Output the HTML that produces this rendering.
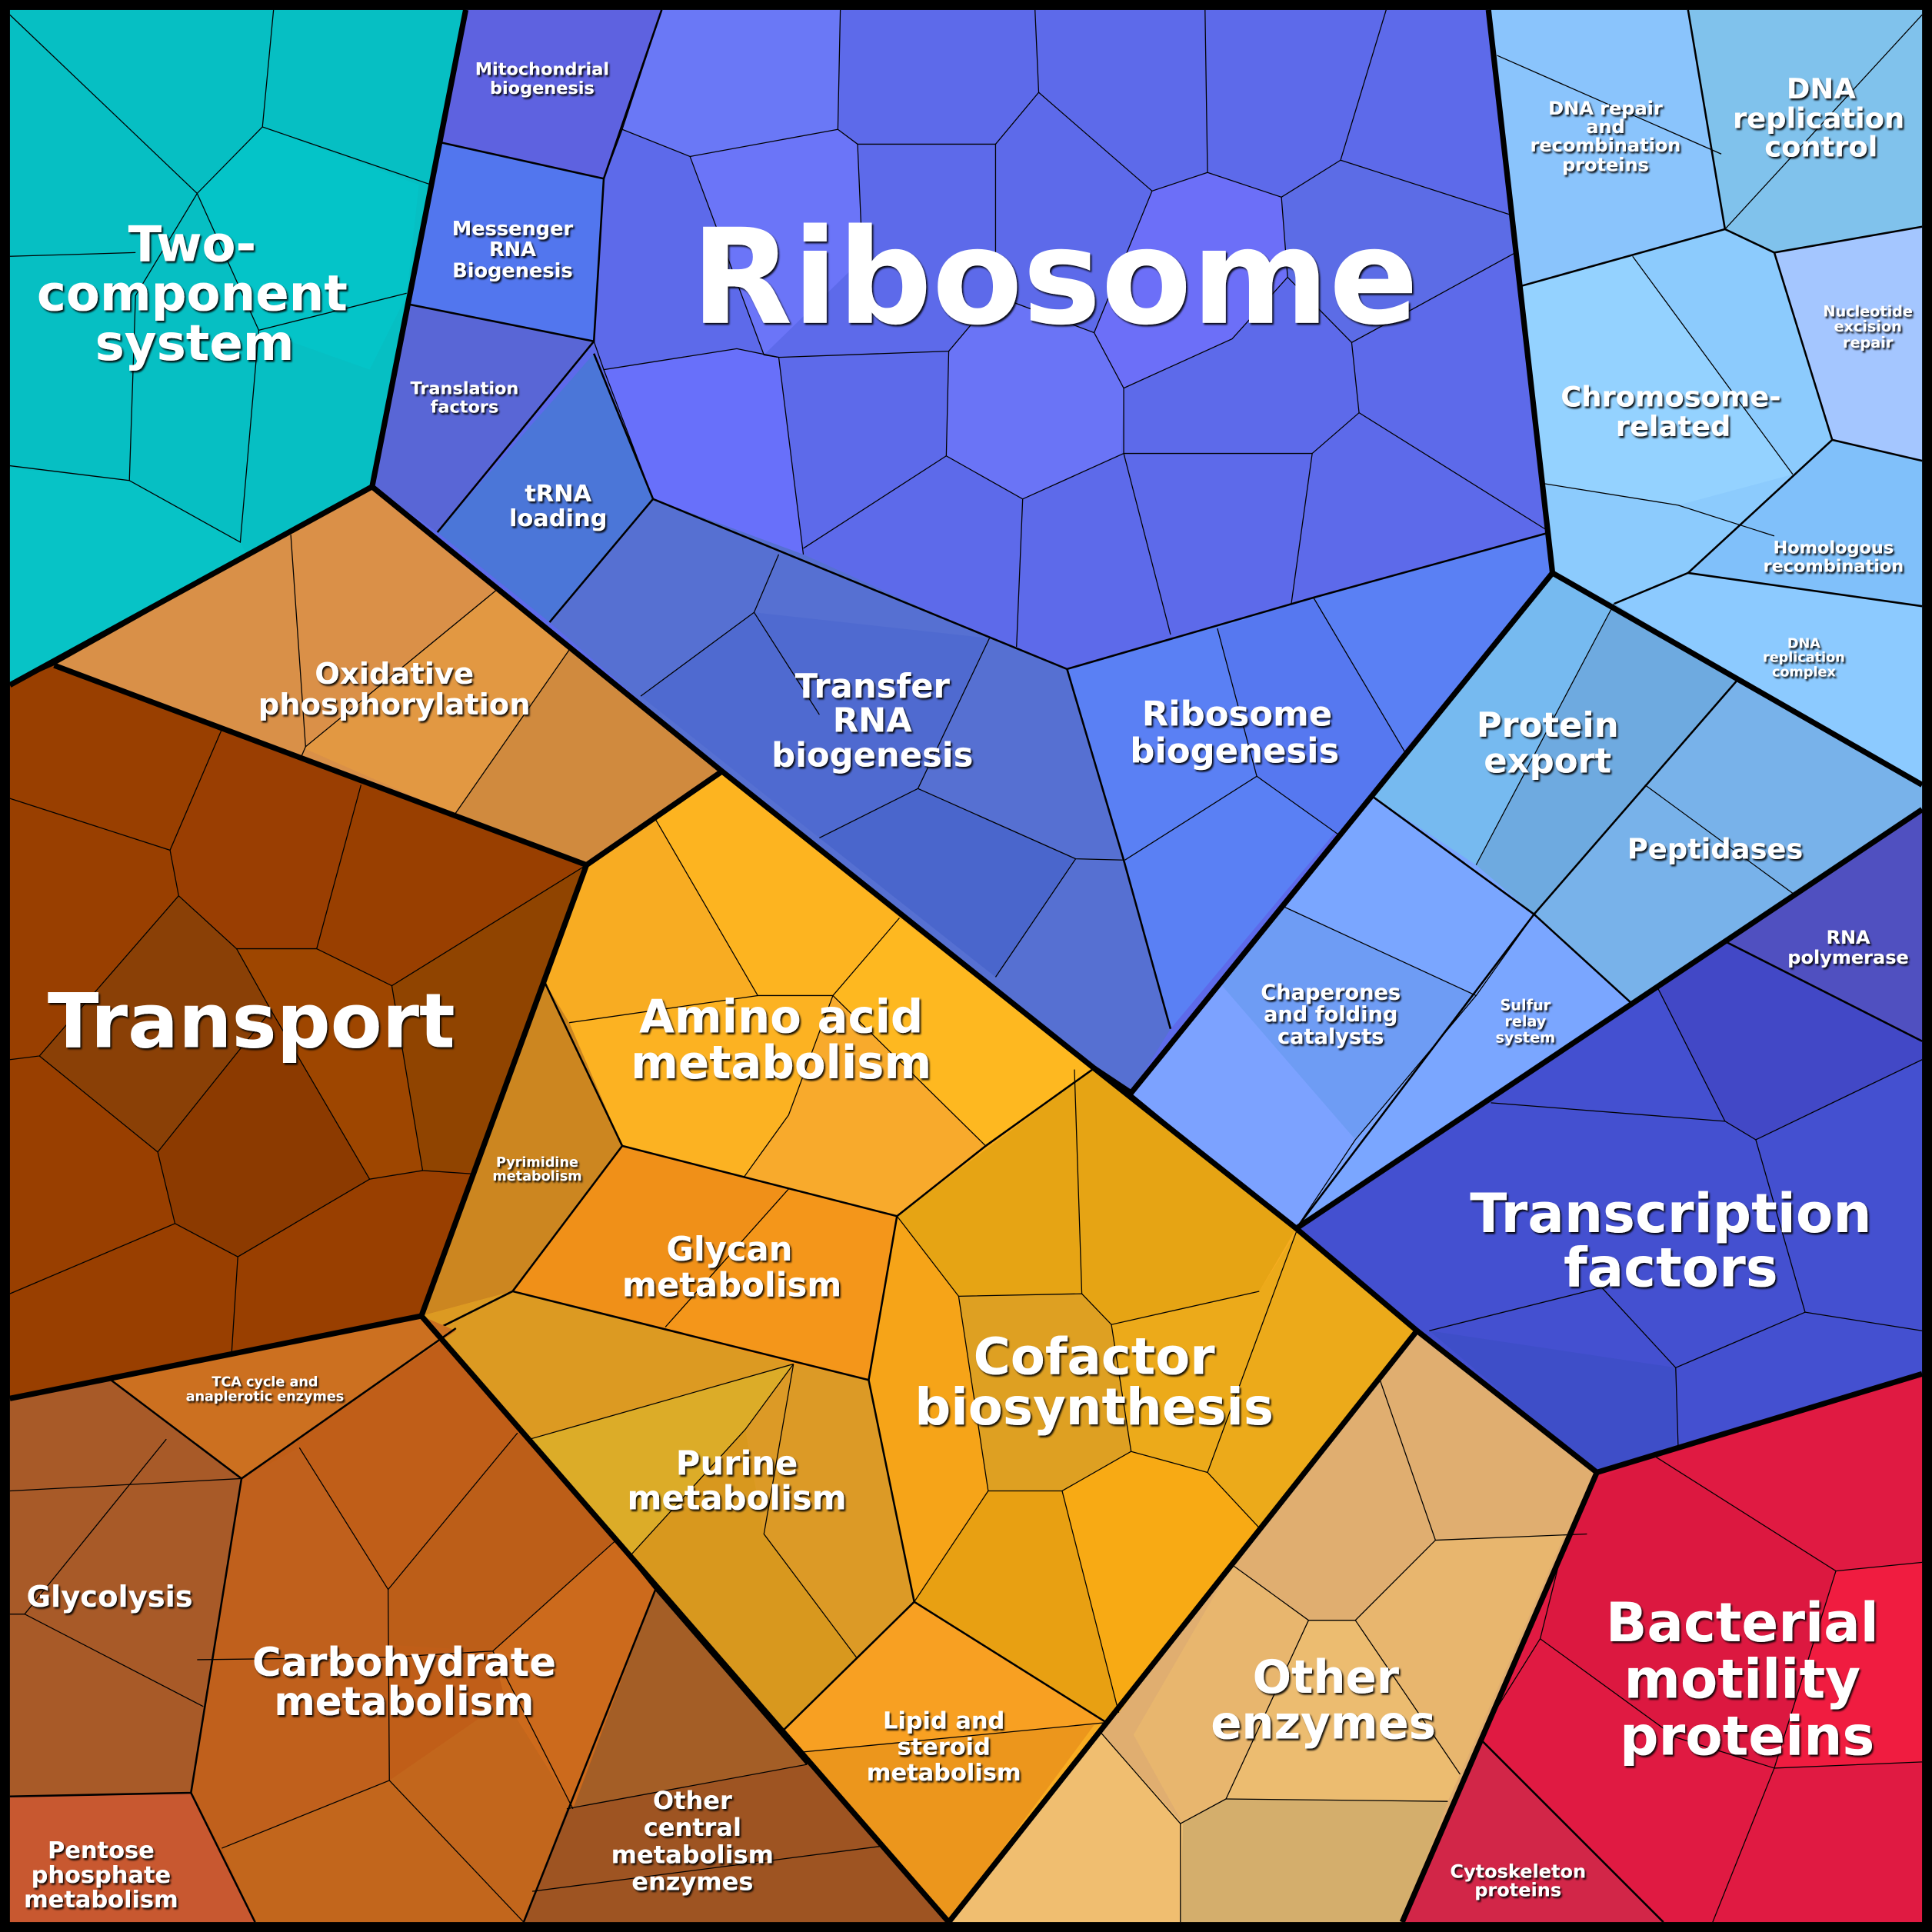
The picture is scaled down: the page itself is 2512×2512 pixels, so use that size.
<!DOCTYPE html>
<html><head><meta charset="utf-8"><style>
html,body{margin:0;padding:0;background:#000;}
svg{display:block}
text{font-family:"DejaVu Sans","Liberation Sans",sans-serif;font-weight:bold;fill:#fff;text-anchor:middle;filter:url(#sh);}
.t{stroke:#000;stroke-width:0.8;fill:none}
.m{stroke:#000;stroke-width:1.6;fill:none}
.k{stroke:#000;stroke-width:4.5;fill:none;stroke-linejoin:round}
</style></head><body>
<svg width="2512" height="2512" viewBox="0 0 1568 1568" xmlns="http://www.w3.org/2000/svg">
<defs><filter id="sh" x="-10%" y="-10%" width="120%" height="130%"><feDropShadow dx="1.2" dy="1.5" stdDeviation="0.6" flood-color="#000" flood-opacity="0.9"/></filter></defs>
<rect width="1568" height="1568" fill="#000"/>
<!-- Two-component -->
<polygon points="8,8 378,8 302,395 8,556" fill="#06bfc3"/>
<polygon points="160,157 213,103 340,150 330,240 300,300 210,268" fill="#04c4c8"/>
<polygon points="8,380 105,390 195,440 200,450 8,556" fill="#07c3c6"/>
<polyline class="t" points="8,12 160,157 213,103 222,8"/>
<polyline class="t" points="213,103 350,150"/>
<polyline class="t" points="160,157 110,240 105,390 8,378"/>
<polyline class="t" points="105,390 195,440 210,268 330,238"/>
<polyline class="t" points="8,208 110,205"/>
<polyline class="t" points="210,268 160,157"/>
<!-- Ribosome area base -->
<polygon points="378,8 1208,8 1260,465 918,887 888,867 586,626 302,395" fill="#5d6aea"/>
<polygon points="505,105 537,8 682,8 680,105 560,127" fill="#6a78f6"/>
<polygon points="560,127 680,105 696,117 700,210 620,288" fill="#6b75f8"/>
<polygon points="935,155 980,140 1040,160 1045,225 1000,275 912,315 888,270" fill="#6c6ff8"/>
<polygon points="808,240 888,270 912,315 910,368 830,405 768,370 770,285" fill="#6a74f6"/>
<polygon points="490,300 598,283 632,290 652,450 530,405" fill="#6870fa"/>
<polygon points="1040,160 1088,130 1228,175 1230,205 1097,278 1045,225" fill="#5c6ce6"/>
<!-- Mito, mRNA, translation, tRNA loading -->
<polygon points="378,8 537,8 490,145 355,115" fill="#5e62e0"/>
<polygon points="355,115 490,145 482,277 332,247" fill="#5276ee"/>
<polygon points="332,247 482,277 355,432 302,395" fill="#5966d6"/>
<polygon points="355,432 482,287 530,405 446,505" fill="#4b76d8"/>
<!-- Transfer RNA -->
<polygon points="446,505 530,405 652,450 803,518 866,543 912,698 950,835 918,887 888,867 586,626" fill="#5670d2"/>
<polygon points="612,497 803,518 745,640 665,680 520,565" fill="#4f6ad0"/>
<polygon points="665,680 745,640 873,697 808,793" fill="#4a66cc"/>
<!-- Ribosome biogenesis -->
<polygon points="866,543 1066,485 1258,432 1260,465 950,835 912,698" fill="#5a80f4"/>
<polygon points="988,510 1066,485 1140,610 1090,680 1020,630" fill="#5678f0"/>
<g class="t">
<polyline points="505,105 490,145"/><polyline points="537,8 505,105 560,127 680,105 682,8"/>
<polyline points="680,105 696,117 808,117 843,75 840,8"/>
<polyline points="843,75 935,155 980,140 978,8"/>
<polyline points="980,140 1040,160 1088,130 1125,8"/>
<polyline points="1088,130 1228,175"/>
<polyline points="560,127 620,288 632,290"/>
<polyline points="696,117 700,210"/>
<polyline points="482,277 490,300 598,283 632,290 652,450"/>
<polyline points="632,290 770,285 808,240 808,117"/>
<polyline points="808,240 888,270 935,155"/>
<polyline points="888,270 912,315 1000,275 1045,225 1040,160"/>
<polyline points="1045,225 1097,278 1230,205"/>
<polyline points="1097,278 1103,335 1255,430"/>
<polyline points="1103,335 1065,368 1048,490"/>
<polyline points="1065,368 912,368 912,315"/>
<polyline points="912,368 950,515"/><polyline points="912,368 830,405 768,370 770,285"/>
<polyline points="768,370 652,445"/><polyline points="830,405 825,525"/>
<polyline points="490,300 530,405"/>
<polyline points="632,450 612,497 520,565"/><polyline points="612,497 665,580"/>
<polyline points="803,518 745,640 665,680"/><polyline points="745,640 873,697 912,698"/>
<polyline points="873,697 808,793"/>
<polyline points="988,510 1020,630 913,698"/><polyline points="1066,485 1140,610"/>
<polyline points="1020,630 1090,680"/>
</g>
<g class="m">
<polyline points="355,115 490,145 482,277 332,247"/>
<polyline points="537,8 490,145"/>
<polyline points="482,277 355,432"/>
<polyline points="482,287 530,405 446,505"/>
<polyline points="530,405 866,543 1066,485 1258,432"/>
<polyline points="866,543 912,698 950,835"/>
</g>
<!-- DNA region -->
<polygon points="1208,8 1560,8 1560,637 1260,465" fill="#8bc6fe"/>
<polygon points="1208,8 1370,8 1400,186 1235,232" fill="#8ac4fc"/>
<polygon points="1370,8 1560,8 1560,184 1440,205 1400,186" fill="#80c2ec"/>
<polygon points="1440,205 1560,184 1560,374 1487,357" fill="#a4c6ff"/>
<polygon points="1235,232 1400,186 1440,205 1487,357 1370,465 1310,490 1260,465" fill="#8ccbfd"/>
<polygon points="1235,232 1325,208 1455,385 1362,410 1250,392" fill="#94d2ff"/>
<polygon points="1487,357 1560,374 1560,492 1370,465" fill="#80c0fa"/>
<polygon points="1310,490 1370,465 1560,492 1560,637" fill="#8ccaff"/>
<g class="t">
<polyline points="1215,45 1397,125"/><polyline points="1400,186 1560,12"/>
<polyline points="1325,208 1455,385"/><polyline points="1250,392 1362,410"/>
<polyline points="1362,410 1440,435"/>
</g>
<g class="m">
<polyline points="1370,8 1400,186 1235,232"/>
<polyline points="1400,186 1440,205 1560,184"/>
<polyline points="1440,205 1487,357 1560,374"/>
<polyline points="1487,357 1370,465 1310,490"/>
<polyline points="1370,465 1560,492"/>
</g>
<!-- Protein export / chaperones -->
<polygon points="1260,465 1560,637 1560,657 1052,997 918,887" fill="#7aa6ff"/>
<polygon points="1260,465 1310,490 1410,552 1335,637 1245,742 1198,702 1112,645" fill="#76baf0"/>
<polygon points="1310,490 1410,552 1335,637 1245,742 1198,702" fill="#6eaae0"/>
<polygon points="1410,552 1560,637 1560,657 1325,815 1245,742 1335,637" fill="#78b2ea"/>
<polygon points="990,798 1040,735 1198,808 1100,925" fill="#6e9cf4"/>
<polygon points="918,887 990,798 1100,925 1052,997" fill="#7ca2ff"/>
<g class="t">
<polyline points="1310,490 1198,702"/><polyline points="1335,637 1455,725"/>
<polyline points="1040,735 1198,808 1100,925"/><polyline points="1040,735 990,798"/>
<polyline points="1112,645 1040,735"/><polyline points="1198,808 1245,742"/>
<polyline points="1100,925 1052,997"/>
</g>
<g class="m">
<polyline points="1112,645 1245,742 1410,552"/>
<polyline points="1245,742 1325,815"/>
<polyline points="1245,742 1052,997"/>
</g>
<!-- Transcription -->
<polygon points="1560,657 1560,1115 1296,1195 1150,1080 1052,997" fill="#4450d0"/>
<polygon points="1400,764 1560,657 1560,845" fill="#5050c0"/>
<polygon points="1345,801 1400,764 1560,845 1560,860 1425,925 1400,910" fill="#4248c6"/>
<polygon points="1160,1080 1360,1110 1360,1175 1296,1195" fill="#3e4ec8"/>
<g class="t">
<polyline points="1345,801 1400,910 1425,925 1560,860"/>
<polyline points="1210,895 1400,910"/>
<polyline points="1425,925 1465,1065 1360,1110 1362,1175"/>
<polyline points="1360,1110 1300,1045 1160,1080"/>
<polyline points="1465,1065 1560,1080"/>
</g>
<g class="m"><polyline points="1400,764 1560,845"/></g>
<!-- Motility -->
<polygon points="1296,1195 1560,1115 1560,1560 1138,1560" fill="#e01a42"/>
<polygon points="1280,1210 1340,1180 1490,1275 1440,1435 1360,1410 1250,1330" fill="#dc1840"/>
<polygon points="1490,1275 1560,1268 1560,1430 1440,1435" fill="#f01c40"/>
<polygon points="1200,1410 1350,1560 1138,1560" fill="#d22648"/>
<g class="t">
<polyline points="1340,1180 1490,1275 1560,1268"/><polyline points="1490,1275 1440,1435 1560,1430"/>
<polyline points="1440,1435 1390,1560"/><polyline points="1440,1435 1360,1410 1250,1330 1280,1210"/>
<polyline points="1250,1330 1200,1410"/>
</g>
<polyline class="m" points="1200,1410 1350,1560"/>
<!-- Other enzymes -->
<polygon points="1150,1080 1296,1195 1138,1560 770,1560" fill="#e0ae70"/>
<polygon points="1000,1270 1062,1315 1100,1315 1165,1250 1270,1245 1185,1440 1115,1460 995,1460 960,1480 920,1408" fill="#e8b66e"/>
<polygon points="958,1480 995,1460 1175,1462 1138,1560 958,1560" fill="#d4ae6c"/>
<polygon points="770,1560 888,1400 960,1480 958,1560" fill="#f0be70"/>
<polygon points="1062,1315 1100,1315 1185,1440 1175,1462 995,1460" fill="#ecbc70"/>
<g class="t">
<polyline points="1120,1120 1165,1250 1288,1245"/><polyline points="1165,1250 1100,1315 1062,1315 1000,1270"/>
<polyline points="1100,1315 1185,1440"/><polyline points="1062,1315 995,1460 958,1480 888,1400"/>
<polyline points="995,1460 1175,1462"/><polyline points="958,1480 958,1560"/>
</g>
<!-- Oxidative -->
<polygon points="44,540 302,395 586,626 476,702" fill="#d99048"/>
<polygon points="236,434 302,395 404,478 246,607" fill="#da9048"/>
<polygon points="246,607 404,478 463,526 369,661" fill="#e29842"/>
<polygon points="369,661 463,526 586,626 476,702" fill="#d08a3e"/>
<g class="t"><polyline points="236,434 248,606 404,478"/><polyline points="463,526 369,661"/><polyline points="248,606 242,620"/></g>
<!-- Transport -->
<polygon points="8,556 44,540 476,702 342,1068 8,1135" fill="#993f00"/>
<polygon points="138,690 180,592 293,637 257,770 192,770 145,727" fill="#9a3e02"/>
<polygon points="145,727 192,770 220,820 128,935 32,857" fill="#8a4006"/>
<polygon points="128,935 220,820 300,957 193,1020 142,993" fill="#8c3a00"/>
<polygon points="257,770 318,800 343,950 300,957 220,820 192,770" fill="#9e4600"/>
<polygon points="318,800 476,702 388,950 343,950" fill="#904400"/>
<g class="t">
<polyline points="8,648 138,690 180,592"/><polyline points="138,690 145,727 192,770 257,770 293,637"/>
<polyline points="145,727 32,857 8,860"/><polyline points="32,857 128,935 142,993 8,1050"/>
<polyline points="128,935 220,820 192,770"/><polyline points="257,770 318,800 476,702"/>
<polyline points="318,800 343,950 388,953"/><polyline points="220,820 300,957 343,950"/>
<polyline points="300,957 193,1020 142,993"/><polyline points="193,1020 188,1098"/>
</g>
<!-- Central metabolism -->
<polygon points="586,626 888,867 1052,997 1150,1080 770,1560 342,1068 476,702" fill="#f8ac22"/>
<polygon points="532,665 586,626 730,745 676,808 615,808" fill="#fdb420"/>
<polygon points="730,745 888,867 800,930 676,808" fill="#feb820"/>
<polygon points="462,830 615,808 676,808 640,905 604,955 505,930" fill="#fcb222"/>
<polygon points="604,955 640,905 676,808 800,930 728,987" fill="#f8aa2c"/>
<polygon points="442,797 462,830 505,930 416,1048 342,1068" fill="#cc8620"/>
<polygon points="505,930 728,987 705,1120 644,1107 416,1048" fill="#f09018"/>
<polygon points="540,1077 640,965 728,987 705,1120 644,1107" fill="#f4961a"/>
<polygon points="342,1068 416,1048 644,1107 430,1168 352,1080" fill="#dc9a22"/>
<polygon points="430,1168 644,1107 605,1160 512,1262" fill="#dcac28"/>
<polygon points="644,1107 705,1120 742,1300 695,1345 620,1245 605,1160" fill="#dc9a26"/>
<polygon points="512,1262 605,1160 620,1245 695,1345 635,1405" fill="#d8981e"/>
<polygon points="728,987 888,867 1052,997 1022,1048 902,1075 878,1050 778,1052" fill="#e6a414"/>
<polygon points="705,1120 728,987 778,1052 802,1210 742,1300" fill="#f6a418"/>
<polygon points="778,1052 878,1050 902,1075 918,1178 862,1210 802,1210" fill="#dea022"/>
<polygon points="902,1075 1022,1048 1052,1000 1150,1080 1022,1240 980,1195 918,1178" fill="#ecaa1a"/>
<polygon points="802,1210 862,1210 908,1390 898,1398 742,1300" fill="#e8a012"/>
<polygon points="862,1210 918,1178 980,1195 1022,1240 908,1390" fill="#f8aa14"/>
<polygon points="635,1405 742,1300 898,1398 888,1400 770,1560 640,1420" fill="#ec961c"/>
<polygon points="635,1405 742,1300 898,1398 640,1423" fill="#f8a022"/>
<g class="t">
<polyline points="532,665 615,808 676,808 730,745"/><polyline points="462,830 615,808"/>
<polyline points="676,808 640,905 604,955"/><polyline points="676,808 800,930"/>
<polyline points="640,965 540,1077"/><polyline points="644,1107 430,1168"/>
<polyline points="644,1107 605,1160 512,1262"/><polyline points="644,1107 620,1245 695,1345"/>
<polyline points="728,987 778,1052 878,1050 902,1075 1022,1048"/><polyline points="872,868 878,1050"/>
<polyline points="778,1052 802,1210 862,1210 918,1178 902,1075"/><polyline points="918,1178 980,1195 1052,1000"/>
<polyline points="980,1195 1022,1240"/><polyline points="802,1210 742,1300"/><polyline points="862,1210 908,1390"/>
<polyline points="640,1423 898,1398"/><polyline points="728,987 800,930"/>
</g>
<g class="m">
<polyline points="442,797 505,930 416,1048 352,1080"/>
<polyline points="505,930 728,987 800,930 888,867"/>
<polyline points="728,987 705,1120 742,1300 635,1405"/>
<polyline points="416,1048 705,1120"/>
<polyline points="742,1300 898,1398"/>
</g>
<!-- Carbohydrate -->
<polygon points="8,1135 342,1068 770,1560 8,1560" fill="#c05e18"/>
<polygon points="8,1135 90,1120 196,1200 155,1455 8,1458" fill="#a85a28"/>
<polygon points="90,1120 342,1068 370,1080 196,1200" fill="#cc7020"/>
<polygon points="8,1458 155,1455 207,1560 8,1560" fill="#c85830"/>
<polygon points="532,1290 770,1560 425,1560 465,1468" fill="#a45e26"/>
<polygon points="196,1200 243,1175 315,1290 316,1445 180,1500 155,1455" fill="#c0601c"/>
<polygon points="315,1290 420,1163 500,1250 400,1340 316,1335" fill="#bc5e18"/>
<polygon points="400,1340 500,1250 532,1290 465,1468 410,1380" fill="#cc6a1c"/>
<polygon points="316,1445 410,1380 465,1468 425,1560 207,1560 180,1500" fill="#c2661c"/>
<polygon points="460,1468 655,1432 770,1560 425,1560" fill="#9e5422"/>
<g class="t">
<polyline points="8,1210 196,1200"/><polyline points="135,1168 20,1310 165,1385"/>
<polyline points="8,1310 20,1310"/>
<polyline points="243,1175 315,1290 420,1163"/><polyline points="315,1290 316,1445 180,1500"/>
<polyline points="316,1445 425,1560"/><polyline points="160,1347 316,1345 400,1340 500,1250"/>
<polyline points="400,1340 465,1468"/>
<polyline points="460,1468 655,1432"/><polyline points="432,1535 718,1498"/>
</g>
<g class="m">
<polyline points="90,1120 196,1200 155,1455 8,1458"/>
<polyline points="196,1200 370,1078"/>
<polyline points="155,1455 207,1560"/>
<polyline points="500,1250 532,1290 425,1560"/>
<polyline points="532,1290 655,1432"/>
</g>
<!-- Thick borders -->
<g class="k">
<polyline points="8,556 302,395 378,8"/>
<polyline points="302,395 586,626 888,867 918,887 1260,465 1208,8"/>
<polyline points="1260,465 1560,637"/>
<polyline points="44,540 476,702 586,626"/>
<polyline points="476,702 342,1068 8,1135"/>
<polyline points="342,1068 770,1560"/>
<polyline points="888,867 1052,997 1150,1080 1296,1195 1138,1560"/>
<polyline points="1150,1080 770,1560"/>
<polyline points="1052,997 1560,657"/>
<polyline points="1296,1195 1560,1115"/>
</g>
<rect x="4" y="4" width="1560" height="1560" fill="none" stroke="#000" stroke-width="8"/>
<!-- Labels -->
<text x="856" y="262" font-size="107">Ribosome</text>
<text x="204" y="850" font-size="61">Transport</text>
<g font-size="40"><text x="156" y="212">Two-</text><text x="156" y="252">component</text><text x="158" y="292">system</text></g>
<g font-size="44"><text x="1356" y="1000">Transcription</text><text x="1356" y="1044">factors</text></g>
<g font-size="44"><text x="1414" y="1332">Bacterial</text><text x="1414" y="1378">motility</text><text x="1418" y="1424">proteins</text></g>
<g font-size="37"><text x="634" y="838">Amino acid</text><text x="634" y="875">metabolism</text></g>
<g font-size="41"><text x="888" y="1115">Cofactor</text><text x="888" y="1156">biosynthesis</text></g>
<g font-size="37"><text x="1076" y="1374">Other</text><text x="1074" y="1411">enzymes</text></g>
<g font-size="32"><text x="328" y="1360">Carbohydrate</text><text x="328" y="1392">metabolism</text></g>
<g font-size="27"><text x="592" y="1023">Glycan</text><text x="594" y="1052">metabolism</text></g>
<g font-size="27"><text x="598" y="1197">Purine</text><text x="598" y="1225">metabolism</text></g>
<g font-size="24"><text x="320" y="555">Oxidative</text><text x="320" y="580">phosphorylation</text></g>
<g font-size="27"><text x="708" y="566">Transfer</text><text x="708" y="594">RNA</text><text x="708" y="622">biogenesis</text></g>
<g font-size="28"><text x="1004" y="589">Ribosome</text><text x="1002" y="619">biogenesis</text></g>
<g font-size="28"><text x="1256" y="598">Protein</text><text x="1256" y="627">export</text></g>
<g font-size="23"><text x="1392" y="697">Peptidases</text></g>
<g font-size="23"><text x="1356" y="330">Chromosome-</text><text x="1358" y="354">related</text></g>
<g font-size="23"><text x="1478" y="80">DNA</text><text x="1476" y="104">replication</text><text x="1478" y="127">control</text></g>
<g font-size="24"><text x="89" y="1304">Glycolysis</text></g>
<g font-size="19"><text x="453" y="407">tRNA</text><text x="453" y="427">loading</text></g>
<g font-size="19"><text x="82" y="1508">Pentose</text><text x="82" y="1528">phosphate</text><text x="82" y="1548">metabolism</text></g>
<g font-size="20"><text x="562" y="1468">Other</text><text x="562" y="1490">central</text><text x="562" y="1512">metabolism</text><text x="562" y="1534">enzymes</text></g>
<g font-size="19"><text x="766" y="1403">Lipid and</text><text x="766" y="1424">steroid</text><text x="766" y="1445">metabolism</text></g>
<g font-size="17"><text x="1080" y="811">Chaperones</text><text x="1080" y="829">and folding</text><text x="1080" y="847">catalysts</text></g>
<g font-size="16"><text x="416" y="191">Messenger</text><text x="416" y="208">RNA</text><text x="416" y="225">Biogenesis</text></g>
<g font-size="14"><text x="440" y="61">Mitochondrial</text><text x="440" y="76">biogenesis</text></g>
<g font-size="14"><text x="377" y="320">Translation</text><text x="377" y="335">factors</text></g>
<g font-size="15"><text x="1303" y="93">DNA repair</text><text x="1303" y="108">and</text><text x="1303" y="123">recombination</text><text x="1303" y="139">proteins</text></g>
<g font-size="14"><text x="1488" y="449">Homologous</text><text x="1488" y="464">recombination</text></g>
<g font-size="15"><text x="1500" y="766">RNA</text><text x="1500" y="782">polymerase</text></g>
<g font-size="15"><text x="1232" y="1524">Cytoskeleton</text><text x="1232" y="1539">proteins</text></g>
<g font-size="12"><text x="1516" y="257">Nucleotide</text><text x="1516" y="269">excision</text><text x="1516" y="282">repair</text></g>
<g font-size="12"><text x="1238" y="820">Sulfur</text><text x="1238" y="833">relay</text><text x="1238" y="846">system</text></g>
<g font-size="11"><text x="1464" y="526">DNA</text><text x="1464" y="537">replication</text><text x="1464" y="549">complex</text></g>
<g font-size="11"><text x="436" y="947">Pyrimidine</text><text x="436" y="958">metabolism</text></g>
<g font-size="11"><text x="215" y="1125">TCA cycle and</text><text x="215" y="1137">anaplerotic enzymes</text></g>
</svg>
</body></html>
